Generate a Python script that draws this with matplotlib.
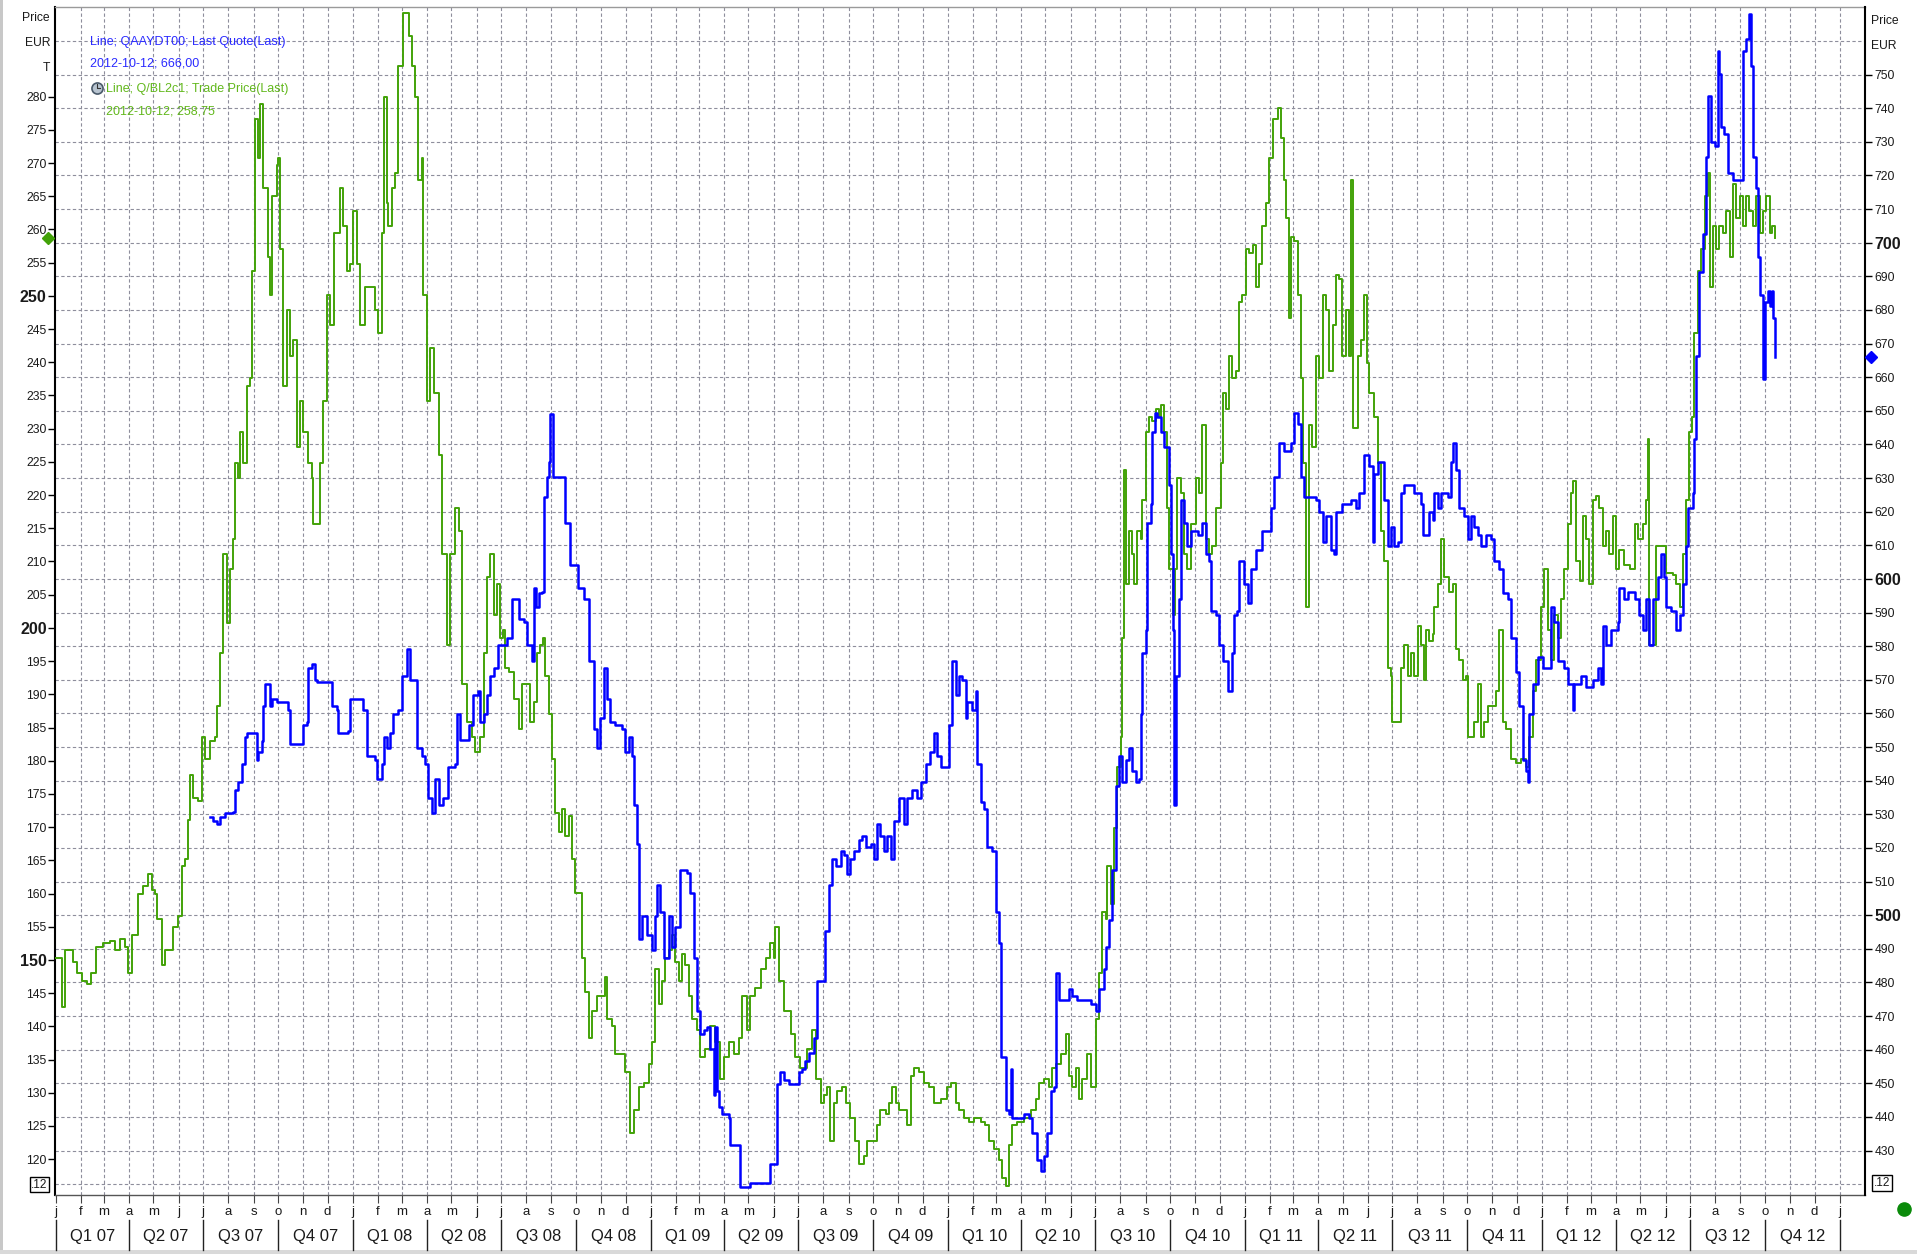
import numpy as np
import pandas as pd
import matplotlib
matplotlib.use("Agg")
import matplotlib.pyplot as plt
import matplotlib.dates as mdates
from matplotlib import transforms, font_manager
from matplotlib.lines import Line2D
from matplotlib.patches import Rectangle

# ---------------- data (months since 2007-01-01, price) ----------------
green_month = [
    0.00, 0.23, 0.36, 0.50, 0.70, 0.84, 1.04, 1.24, 1.44, 1.64,
    1.91, 2.18, 2.38, 2.59, 2.79, 2.92, 3.06, 3.33, 3.53, 3.73,
    3.87, 4.00, 4.07, 4.27, 4.40, 4.61, 4.74, 4.94, 5.08, 5.21,
    5.35, 5.41, 5.55, 5.75, 5.89, 6.02, 6.22, 6.42, 6.49, 6.63,
    6.76, 6.90, 7.03, 7.14, 7.23, 7.37, 7.43, 7.57, 7.70, 7.84,
    7.91, 8.04, 8.18, 8.24, 8.38, 8.58, 8.65, 8.71, 8.92, 8.98,
    9.05, 9.18, 9.32, 9.45, 9.59, 9.72, 9.86, 9.99, 10.20, 10.33,
    10.40, 10.53, 10.67, 10.80, 10.94, 11.07, 11.21, 11.47, 11.61, 11.74,
    11.88, 12.01, 12.15, 12.28, 12.48, 12.69, 12.89, 13.02, 13.16, 13.23,
    13.36, 13.43, 13.56, 13.70, 13.83, 14.03, 14.24, 14.37, 14.51, 14.64,
    14.77, 14.84, 14.98, 15.11, 15.25, 15.45, 15.58, 15.78, 15.92, 16.12,
    16.26, 16.39, 16.59, 16.79, 16.93, 17.13, 17.27, 17.40, 17.54, 17.67,
    17.80, 17.94,
    18.07, 18.14, 18.28, 18.48, 18.68, 18.82, 18.95, 19.15, 19.29, 19.42,
    19.56, 19.66, 19.76, 19.89, 20.03, 20.16, 20.30, 20.43, 20.57, 20.70,
    20.84, 20.97, 21.11, 21.24, 21.37, 21.51, 21.64, 21.85, 22.05, 22.18,
    22.25, 22.45, 22.59, 22.79, 22.99, 23.19, 23.33, 23.53, 23.73, 23.93,
    24.07, 24.20, 24.34, 24.47, 24.61, 24.74, 24.88, 25.01, 25.15, 25.28,
    25.41, 25.55, 25.68, 25.89, 26.02, 26.22, 26.42, 26.63, 26.83, 26.96,
    27.17, 27.37, 27.57, 27.70, 27.91, 28.04, 28.24, 28.45, 28.65, 28.85,
    28.98, 29.05, 29.19, 29.39, 29.66, 29.86, 30.06, 30.33, 30.53, 30.67,
    30.87, 31.00, 31.14, 31.27, 31.41, 31.54, 31.74, 31.88, 32.08, 32.28,
    32.42, 32.62, 32.76, 32.96, 33.16, 33.29, 33.50, 33.63, 33.77, 33.90,
    34.03, 34.24, 34.37, 34.51, 34.64, 34.84, 35.04, 35.25, 35.45, 35.72,
    35.99,
    36.12, 36.32, 36.46, 36.66, 36.86, 37.06, 37.33, 37.53, 37.67, 37.87,
    38.07, 38.21, 38.34, 38.48, 38.61, 38.81, 39.08, 39.35, 39.55, 39.69,
    39.89, 40.09, 40.23, 40.36, 40.56, 40.77, 40.90, 41.04, 41.17, 41.31,
    41.44, 41.64, 41.78, 41.91, 41.98, 42.11, 42.25, 42.38, 42.45, 42.58,
    42.72, 42.85, 42.99, 43.06, 43.12, 43.19, 43.33, 43.46, 43.53, 43.66,
    43.80, 43.86, 44.00, 44.13, 44.27, 44.40, 44.54, 44.60, 44.74, 44.87,
    44.94, 45.08, 45.17, 45.28, 45.41, 45.55, 45.68, 45.82, 46.02, 46.15,
    46.29, 46.42, 46.56, 46.69, 46.83, 47.03, 47.10, 47.23, 47.37, 47.50,
    47.64, 47.77, 47.90, 48.04, 48.17, 48.31, 48.44, 48.58, 48.71, 48.85,
    48.98, 49.12, 49.32, 49.45, 49.59, 49.66, 49.79, 49.86, 49.99, 50.13,
    50.26, 50.33, 50.46, 50.60, 50.73, 50.87, 51.00, 51.14, 51.27, 51.41,
    51.54, 51.68, 51.81, 51.94, 52.08, 52.21, 52.28, 52.35, 52.48, 52.55,
    52.69, 52.82, 52.93, 53.02, 53.22, 53.36, 53.49, 53.63, 53.76, 53.90,
    53.96,
    54.30, 54.43, 54.57, 54.70, 54.84, 54.97, 55.11, 55.24, 55.31, 55.45,
    55.58, 55.65, 55.78, 55.92, 56.05, 56.25, 56.39, 56.52, 56.66, 56.79,
    56.93, 56.99, 57.13, 57.26, 57.40, 57.53, 57.67, 57.80, 58.00, 58.14,
    58.27, 58.41, 58.54, 58.74, 58.95, 59.15, 59.35, 59.49, 59.62, 59.75,
    59.96, 60.09, 60.23, 60.36, 60.50, 60.63, 60.76, 60.90, 61.03, 61.17,
    61.26, 61.37, 61.51, 61.64, 61.77, 61.91, 62.04, 62.18, 62.31, 62.45,
    62.58, 62.72, 62.85, 62.99, 63.12, 63.32, 63.53, 63.73, 63.86, 64.06,
    64.20, 64.29, 64.33, 64.47, 64.60, 64.94, 65.01, 65.28, 65.41, 65.55,
    65.68, 65.82, 65.91, 66.04, 66.15, 66.29, 66.42, 66.56, 66.69, 66.76,
    66.89, 67.03, 67.16, 67.30, 67.43, 67.57, 67.70, 67.84, 67.97, 68.10,
    68.24, 68.37, 68.51, 68.64, 68.78, 68.91, 69.05, 69.18, 69.30, 69.40,
]
green_price = [
    150.3, 142.9, 151.5, 151.5, 149.7, 148.0, 146.9, 146.3, 148.0, 152.0,
    152.6, 152.8, 151.5, 153.2, 152.0, 148.0, 153.8, 160.0, 161.2, 162.9,
    160.6, 160.0, 156.1, 149.2, 151.5, 151.5, 154.9, 156.6, 164.1, 165.2,
    171.0, 177.9, 174.4, 173.9, 183.6, 180.2, 183.0, 183.6, 188.2, 196.2,
    211.2, 200.8, 208.9, 213.4, 224.9, 222.6, 229.5, 224.9, 236.4, 237.6,
    253.7, 276.6, 270.8, 278.9, 266.2, 255.9, 250.2, 265.1, 269.7, 270.8,
    257.1, 236.4, 247.9, 241.0, 243.3, 227.2, 234.1, 229.5, 224.9, 222.6,
    215.7, 215.7, 224.9, 234.1, 250.2, 245.6, 259.4, 266.2, 260.5, 253.7,
    254.8, 262.8, 254.8, 245.6, 251.3, 251.3, 247.9, 244.4, 259.4, 280.0,
    264.0, 260.5, 266.2, 268.5, 284.6, 292.6, 289.2, 284.6, 280.0, 267.4,
    270.8, 250.2, 234.1, 242.1, 235.3, 226.1, 211.2, 197.4, 211.2, 218.0,
    214.6, 191.6, 185.9, 183.6, 181.3, 183.6, 196.2, 207.7, 211.2, 202.0,
    206.6, 198.5,
    199.7, 193.9, 193.4, 189.3, 184.8, 191.6, 191.6, 185.9, 188.8, 196.2,
    197.4, 198.5, 192.8, 187.1, 180.2, 172.1, 169.3, 172.7, 168.7, 171.6,
    165.2, 160.1, 160.1, 150.3, 145.2, 138.3, 142.3, 144.6, 144.6, 147.5,
    141.1, 140.0, 135.9, 135.9, 133.1, 123.9, 127.4, 130.8, 131.4, 134.3,
    137.7, 148.6, 143.4, 146.9, 150.3, 151.5, 153.8, 149.7, 146.9, 150.9,
    149.2, 144.6, 141.1, 139.4, 135.4, 136.6, 140.0, 137.7, 132.0, 135.4,
    137.7, 135.9, 138.3, 144.6, 139.4, 144.6, 145.7, 148.6, 150.3, 152.6,
    150.3, 154.9, 146.9, 142.3, 138.8, 135.4, 133.7, 136.6, 139.4, 132.0,
    128.5, 129.7, 130.8, 122.8, 128.5, 130.3, 130.8, 128.5, 126.2, 122.8,
    119.3, 120.5, 122.8, 122.8, 125.1, 127.4, 126.8, 128.5, 130.8, 128.5,
    127.4, 127.4, 125.1, 132.5, 133.7, 133.1, 131.4, 130.8, 128.5, 129.1,
    130.8,
    131.4, 128.5, 127.4, 126.2, 125.6, 126.2, 125.6, 125.1, 122.8, 121.6,
    119.9, 117.1, 115.9, 122.2, 125.1, 125.6, 126.2, 127.4, 129.1, 131.4,
    132.0, 130.8, 133.7, 134.3, 135.9, 138.8, 132.5, 130.8, 133.7, 129.1,
    132.0, 135.9, 130.8, 130.8, 141.1, 148.0, 157.2, 156.1, 164.1, 158.4,
    169.8, 179.0, 183.6, 198.5, 223.8, 206.6, 214.6, 211.2, 206.6, 214.6,
    213.4, 219.2, 229.5, 231.8, 231.2, 232.9, 231.8, 233.5, 229.5, 218.0,
    208.9, 202.0, 208.9, 222.6, 220.3, 211.2, 208.9, 215.7, 222.6, 220.3,
    230.6, 213.4, 211.2, 212.3, 218.0, 224.9, 235.3, 233.0, 241.0, 237.6,
    238.7, 249.1, 250.2, 257.1, 256.5, 257.6, 251.3, 254.8, 260.5, 264.0,
    270.8, 276.6, 278.3, 273.7, 267.4, 261.7, 246.7, 258.8, 258.2, 250.2,
    237.6, 224.9, 203.1, 230.6, 227.2, 241.0, 237.6, 250.2, 247.9, 238.7,
    245.6, 253.1, 252.5, 241.0, 247.9, 241.0, 267.4, 230.1, 230.1, 241.0,
    243.3, 250.2, 239.9, 235.3, 231.8, 224.9, 214.6, 210.0, 193.9, 192.8,
    185.9,
    193.9, 197.4, 192.8, 196.2, 192.8, 200.3, 197.4, 192.2, 199.7, 198.0,
    199.1, 203.1, 206.6, 213.4, 207.7, 205.4, 206.6, 196.8, 195.1, 192.2,
    192.8, 183.6, 183.6, 185.9, 191.6, 183.6, 185.9, 188.2, 188.2, 190.5,
    199.7, 185.9, 184.7, 180.2, 179.6, 180.2, 179.0, 183.6, 190.5, 195.1,
    203.1, 208.9, 199.7, 195.1, 202.0, 198.5, 204.3, 208.9, 215.7, 220.3,
    222.1, 210.0, 207.1, 216.9, 213.4, 206.6, 219.2, 219.8, 218.0, 212.3,
    214.6, 211.2, 216.9, 208.9, 211.7, 209.4, 208.9, 215.7, 213.4, 215.7,
    219.2, 228.4, 197.4, 197.4, 212.3, 212.3, 208.3, 207.9, 206.6, 203.1,
    211.2, 219.2, 229.5, 231.8, 244.4, 253.7, 257.1, 265.1, 268.5, 251.3,
    260.5, 257.1, 260.5, 259.4, 262.8, 255.9, 266.8, 261.7, 265.1, 260.5,
    265.1, 262.8, 260.5, 265.1, 259.4, 262.8, 265.1, 259.4, 260.5, 258.75,
]

blue_month = [
    6.22, 6.36, 6.49, 6.63, 6.83, 7.17, 7.23, 7.37, 7.50, 7.64,
    7.70, 7.97, 8.11, 8.18, 8.31, 8.38, 8.44, 8.58, 8.65, 8.71,
    8.92, 9.18, 9.39, 9.45, 9.86, 9.99, 10.13, 10.20, 10.33, 10.46,
    10.53, 11.07, 11.14, 11.34, 11.41, 11.81, 11.88, 12.15, 12.42, 12.55,
    12.89, 12.96, 13.16, 13.23, 13.36, 13.49, 13.63, 13.83, 13.97, 14.17,
    14.30, 14.51, 14.57, 14.77, 14.91, 15.04, 15.18, 15.31, 15.45, 15.65,
    15.85, 16.12, 16.19, 16.32, 16.59, 16.66, 16.86, 17.06, 17.13, 17.27,
    17.40, 17.54, 17.67, 17.87,
    18.21, 18.41, 18.55, 18.68, 18.88, 19.02, 19.15, 19.22, 19.29, 19.39,
    19.49, 19.62, 19.69, 19.83, 19.89, 19.96, 20.07, 20.09, 20.50, 20.57,
    20.70, 20.77, 20.97, 21.06, 21.31, 21.44, 21.51, 21.64, 21.71, 21.85,
    21.91, 21.98, 22.12, 22.25, 22.38, 22.59, 22.86, 22.99, 23.13, 23.26,
    23.33, 23.46, 23.53, 23.66, 23.87, 24.07, 24.20, 24.27, 24.40, 24.54,
    24.74, 24.88, 25.01, 25.15, 25.21, 25.48, 25.62, 25.75, 25.89, 26.02,
    26.16, 26.29, 26.42, 26.56, 26.63, 26.69, 26.76, 26.90, 27.17, 27.23,
    27.43, 27.64, 27.84, 28.04, 28.65, 28.85, 29.05, 29.12, 29.25, 29.39,
    29.59, 29.79, 29.99, 30.13, 30.26, 30.40, 30.60, 30.73, 30.94, 31.07,
    31.21, 31.34, 31.48, 31.68, 31.81, 31.95, 32.08, 32.22, 32.42, 32.55,
    32.69, 32.89, 33.02, 33.16, 33.29, 33.43, 33.56, 33.70, 33.83, 34.03,
    34.24, 34.37, 34.57, 34.78, 34.91, 35.11, 35.31, 35.45, 35.58, 35.72,
    35.99, 36.05,
    36.19, 36.32, 36.46, 36.59, 36.73, 36.79, 36.99, 37.13, 37.20, 37.33,
    37.47, 37.60, 37.80, 37.94, 38.07, 38.14, 38.27, 38.34, 38.48, 38.54,
    38.61, 38.81, 39.08, 39.28, 39.42, 39.62, 39.76, 39.89, 40.03, 40.16,
    40.30, 40.36, 40.50, 40.70, 40.90, 41.04, 41.24, 41.51, 41.78, 41.98,
    42.11, 42.32, 42.38, 42.52, 42.65, 42.79, 42.92, 43.06, 43.19, 43.33,
    43.46, 43.59, 43.73, 43.80, 43.86, 44.00, 44.07, 44.20, 44.27, 44.36,
    44.47, 44.60, 44.74, 44.94, 45.01, 45.08, 45.14, 45.21, 45.35, 45.41,
    45.55, 45.68, 45.82, 46.09, 46.29, 46.42, 46.56, 46.63, 46.83, 46.96,
    47.10, 47.30, 47.50, 47.57, 47.70, 47.77, 47.97, 48.11, 48.24, 48.44,
    48.71, 48.91, 49.05, 49.18, 49.39, 49.59, 49.86, 49.99, 50.13, 50.26,
    50.40, 50.60, 50.87, 51.00, 51.14, 51.27, 51.47, 51.61, 51.68, 51.94,
    52.28, 52.48, 52.62, 52.82, 53.02, 53.16, 53.22, 53.36, 53.49, 53.63,
    53.76, 53.90, 54.03, 54.17,
    54.30, 54.43, 54.84, 55.11, 55.18, 55.38, 55.45, 55.58, 55.65, 55.78,
    55.92, 56.19, 56.32, 56.39, 56.52, 56.66, 56.86, 56.99, 57.13, 57.26,
    57.40, 57.53, 57.73, 57.94, 58.07, 58.27, 58.41, 58.61, 58.74, 58.95,
    59.08, 59.22, 59.35, 59.42, 59.49, 59.62, 59.82, 60.02, 60.23, 60.36,
    60.50, 60.63, 60.90, 61.03, 61.24, 61.30, 61.57, 61.77, 62.04, 62.25,
    62.38, 62.45, 62.58, 62.78, 63.05, 63.12, 63.32, 63.46, 63.73, 63.93,
    64.06, 64.20, 64.33, 64.47, 64.67, 64.81, 64.94, 65.01, 65.21, 65.41,
    65.55, 65.68, 65.82, 65.88, 66.08, 66.15, 66.22, 66.35, 66.49, 66.62,
    66.69, 66.83, 66.96, 67.09, 67.16, 67.23, 67.36, 67.50, 67.70, 67.97,
    68.10, 68.24, 68.37, 68.44, 68.51, 68.64, 68.71, 68.78, 68.91, 68.98,
    69.11, 69.22, 69.28, 69.33, 69.40,
]
blue_price = [
    529.3, 528.1, 527.0, 529.3, 530.4, 530.8, 537.2, 539.5, 545.1, 553.1,
    554.2, 554.2, 546.3, 548.5, 551.9, 562.1, 568.9, 568.9, 562.1, 564.4,
    563.3, 563.3, 561.0, 550.8, 550.8, 556.5, 557.6, 573.5, 574.6, 570.1,
    569.4, 569.4, 562.1, 561.0, 554.2, 554.9, 564.4, 564.4, 561.0, 547.4,
    546.3, 540.6, 545.1, 553.1, 549.7, 554.2, 559.9, 561.0, 571.2, 579.1,
    570.1, 570.1, 549.7, 547.4, 545.1, 535.0, 530.4, 540.6, 532.7, 535.0,
    544.0, 545.1, 559.9, 552.0, 552.0, 556.5, 565.5, 566.7, 557.6, 559.9,
    565.5, 571.2, 573.5, 580.3,
    582.5, 593.9, 593.9, 588.2, 587.1, 580.3, 580.3, 575.7, 597.3, 591.6,
    595.7, 596.1, 624.5, 630.2, 634.7, 649.0, 649.0, 630.2, 630.2, 616.5,
    616.5, 604.1, 604.1, 597.3, 593.9, 593.9, 575.7, 575.7, 555.3, 549.7,
    549.7, 558.7, 573.5, 564.4, 557.6, 556.5, 555.3, 548.5, 553.1, 547.4,
    532.7, 521.3, 493.0, 499.8, 494.1, 489.6, 499.8, 508.9, 500.9, 487.3,
    499.8, 490.7, 496.4, 496.4, 513.4, 512.7, 506.6, 487.3, 471.5, 464.7,
    465.8, 466.9, 460.1, 446.5, 466.9, 447.6, 443.1, 440.8, 439.7, 431.8,
    431.8, 419.3, 419.3, 420.5, 420.5, 426.1, 426.1, 449.9, 453.3, 451.0,
    449.9, 449.9, 453.3, 454.4, 456.7, 459.0, 463.5, 480.5, 480.5, 495.3,
    508.9, 516.8, 514.5, 519.1, 518.0, 512.3, 516.8, 519.1, 522.5, 523.6,
    520.2, 521.3, 516.8, 527.0, 523.6, 519.1, 523.6, 516.8, 528.1, 535.0,
    527.0, 535.0, 537.2, 535.0, 539.5, 545.1, 548.5, 554.2, 547.4, 544.0,
    544.0, 556.5,
    575.7, 565.5, 571.2, 570.1, 558.7, 563.3, 561.0, 566.7, 545.1, 533.8,
    531.5, 520.2, 519.1, 500.9, 491.8, 457.9, 457.9, 442.0, 440.8, 454.4,
    439.7, 439.7, 440.8, 439.7, 435.2, 427.2, 423.8, 428.4, 435.2, 447.6,
    448.8, 482.8, 474.8, 474.8, 478.2, 476.0, 474.8, 474.8, 473.7, 471.5,
    478.2, 483.9, 490.7, 498.7, 513.4, 538.3, 547.4, 539.5, 546.3, 549.7,
    542.9, 539.5, 540.6, 559.9, 578.0, 584.8, 616.5, 622.2, 643.7, 649.4,
    648.3, 643.7, 639.2, 627.9, 607.5, 584.8, 532.7, 571.2, 593.9, 623.4,
    616.5, 609.7, 614.2, 613.1, 616.5, 607.5, 605.3, 590.5, 589.4, 580.3,
    575.7, 566.7, 578.0, 589.4, 590.5, 605.3, 598.4, 592.8, 603.0, 608.6,
    614.2, 614.2, 621.0, 630.2, 640.4, 638.1, 640.4, 649.4, 646.0, 630.2,
    624.5, 624.5, 623.4, 620.0, 610.9, 618.8, 608.6, 607.5, 620.0, 622.2,
    623.4, 621.0, 625.6, 637.0, 633.6, 610.9, 631.3, 634.7, 634.7, 623.4,
    609.7, 615.4, 609.7, 610.9,
    625.6, 628.0, 625.6, 622.2, 613.1, 613.1, 620.0, 617.6, 625.6, 621.0,
    625.6, 624.5, 634.7, 640.4, 632.4, 621.0, 618.8, 612.0, 618.8, 615.4,
    613.1, 609.7, 613.1, 612.0, 605.3, 603.0, 595.9, 593.9, 582.5, 572.3,
    562.1, 546.3, 542.9, 539.5, 559.9, 568.9, 576.9, 573.5, 573.5, 591.6,
    587.1, 575.7, 573.5, 568.9, 561.0, 568.9, 571.2, 567.8, 570.1, 573.5,
    568.9, 585.9, 580.3, 584.8, 587.1, 597.3, 593.9, 596.1, 593.9, 589.4,
    584.8, 593.9, 580.3, 593.9, 600.7, 607.5, 600.7, 591.6, 590.5, 584.8,
    589.4, 598.4, 609.7, 621.0, 625.6, 641.5, 666.4, 691.4, 702.7, 725.4,
    743.5, 729.9, 728.8, 757.1, 750.3, 734.4, 732.2, 720.8, 718.6, 718.6,
    757.1, 760.5, 768.0, 752.6, 725.4, 716.3, 695.9, 684.6, 659.6, 682.3,
    685.7, 681.1, 685.7, 677.7, 666.0,
]

left_ticks = list(range(120, 281, 5))
right_ticks = list(range(430, 751, 10))
right_grid = list(range(420, 761, 10))
month_letters = ["j", "f", "m", "a", "m", "j", "j", "a", "s", "o", "n", "d"]
legend_lines = ["Line; QAAYDT00; Last Quote(Last)", "2012-10-12; 666,00",
                "Line; Q/BL2c1; Trade Price(Last)", "2012-10-12; 258,75"]
last_green = 258.75
last_blue = 666.00

# ---------------- style ----------------
names = {f.name for f in font_manager.fontManager.ttflist}
NARROW = "Liberation Sans Narrow" in names
plt.rcParams["font.family"] = ["Liberation Sans", "DejaVu Sans"]
q_family = ["Liberation Sans Narrow", "Liberation Sans"] if NARROW else ["Liberation Sans"]
q_size = 14 if NARROW else 12

GREEN = "#42a208"
BLUE = "#0000ff"
GRID = "#8e8e9c"
TXT = "#1a1a1a"
DASH = (0, (3, 2.2))

W, H = 1917, 1254
fig = plt.figure(figsize=(W / 100, H / 100), dpi=100)
fig.patch.set_facecolor("white")
AX_L, AX_R, AX_T, AX_B = 55, 1865, 7, 1195
ax1 = fig.add_axes([AX_L / W, 1 - AX_B / H, (AX_R - AX_L) / W, (AX_B - AX_T) / H])
ax2 = ax1.twinx()
ax2.patch.set_visible(False)


def fx(px):
    return px / W


def fy(py):
    return 1 - py / H


base = pd.Timestamp("2007-01-01")
DAYS_PER_MONTH = 365.25 / 12


def to_num(months):
    d = base + pd.to_timedelta(np.asarray(months) * DAYS_PER_MONTH, unit="D")
    return mdates.date2num(d.to_pydatetime())


gx = to_num(green_month)
bx = to_num(blue_month)

x0 = mdates.date2num(pd.Timestamp("2006-12-31").to_pydatetime())
x1 = mdates.date2num(pd.Timestamp("2013-02-01").to_pydatetime())
ax1.set_xlim(x0, x1)
ax1.set_ylim(114.6, 293.5)
ax2.set_ylim(416.8, 770.1)
ax1.autoscale(False)
ax2.autoscale(False)

# grid
month_starts = pd.date_range("2007-01-01", "2013-01-01", freq="MS")
ms_num = mdates.date2num(month_starts.to_pydatetime())
for m in ms_num[1:]:
    ax1.axvline(m, color=GRID, lw=0.8, ls=DASH, zorder=0.5)
htrans = transforms.blended_transform_factory(ax1.transAxes, ax2.transData)
for v in right_grid:
    ax1.add_line(Line2D([0, 1], [v, v], transform=htrans, color=GRID, lw=0.8,
                        ls=DASH, zorder=0.5))

# series (stepped, like the daily price trace)
ax1.plot(gx, green_price, color=GREEN, lw=1.4, zorder=3, drawstyle="steps-post")
ax2.plot(bx, blue_price, color=BLUE, lw=1.8, zorder=3, drawstyle="steps-post")

# spines
for s in ["top", "bottom", "left", "right"]:
    ax2.spines[s].set_visible(False)
ax1.spines["right"].set_visible(False)
ax1.spines["left"].set_color("black")
ax1.spines["left"].set_linewidth(1.5)
ax2.spines["right"].set_visible(True)
ax2.spines["right"].set_color("black")
ax2.spines["right"].set_linewidth(1.5)
ax1.spines["top"].set_color("#9a9a9a")
ax1.spines["top"].set_linewidth(1.0)
ax1.spines["bottom"].set_color("#555555")
ax1.spines["bottom"].set_linewidth(1.0)

# y ticks
ax1.set_yticks(left_ticks, labels=[str(v) for v in left_ticks])
ax1.tick_params(axis="y", direction="out", length=5, width=1.0, pad=1,
                labelsize=8.7, labelcolor=TXT, color="black")
for lbl, v in zip(ax1.get_yticklabels(), left_ticks):
    if v % 50 == 0:
        lbl.set_fontweight("bold")
        lbl.set_fontsize(11.5)

ax2.set_yticks(right_ticks, labels=[str(v) for v in right_ticks])
ax2.tick_params(axis="y", direction="out", length=5, width=1.0, pad=2,
                labelsize=8.7, labelcolor=TXT, color="black")
for lbl, v in zip(ax2.get_yticklabels(), right_ticks):
    if v % 100 == 0:
        lbl.set_fontweight("bold")
        lbl.set_fontsize(11.5)

# x ticks: month letters
ax1.set_xticks(ms_num, labels=[month_letters[d.month - 1] for d in month_starts])
ax1.tick_params(axis="x", direction="out", length=6, width=0.8, color="#444444",
                pad=2, labelsize=9.5, labelcolor=TXT)

# quarter labels and separators
qtrans = transforms.blended_transform_factory(ax1.transData, fig.transFigure)
q_starts = pd.date_range("2007-01-01", "2013-01-01", freq="QS")
qs_num = mdates.date2num(q_starts.to_pydatetime())
for i, qd in enumerate(q_starts):
    fig.add_artist(Line2D([qs_num[i], qs_num[i]], [fy(1220), fy(1250)],
                          transform=qtrans, color="#222222", lw=1.0))
    if i < len(q_starts) - 1:
        cx = (qs_num[i] + qs_num[i + 1]) / 2
        q = (qd.month - 1) // 3 + 1
        fig.text(cx, fy(1236), f"Q{q} {qd.year % 100:02d}", transform=qtrans,
                 ha="center", va="center", fontsize=q_size, family=q_family,
                 color=TXT)

# axis captions
for txt, py in [("Price", 18), ("EUR", 43), ("T", 68)]:
    fig.text(fx(50), fy(py), txt, ha="right", va="center", fontsize=8.7, color=TXT)
for txt, py in [("Price", 21), ("EUR", 46)]:
    fig.text(fx(1871), fy(py), txt, ha="left", va="center", fontsize=8.7, color=TXT)

# legend block
BLUE_TXT = "#2a2aff"
GREEN_TXT = "#62b81c"
fig.text(fx(90), fy(42), legend_lines[0], ha="left", va="center", fontsize=9, color=BLUE_TXT)
fig.text(fx(90), fy(64), legend_lines[1], ha="left", va="center", fontsize=9, color=BLUE_TXT)
fig.text(fx(106), fy(89), legend_lines[2], ha="left", va="center", fontsize=9, color=GREEN_TXT)
fig.text(fx(106), fy(112), legend_lines[3], ha="left", va="center", fontsize=9, color=GREEN_TXT)
fig.add_artist(Line2D([fx(97)], [fy(88)], transform=fig.transFigure, marker="o",
                      markersize=8, markerfacecolor="#b8c4d0", markeredgecolor="#4a5a6a",
                      markeredgewidth=1.2))
fig.add_artist(Line2D([fx(97), fx(97), fx(100)], [fy(84), fy(88), fy(88)],
                      transform=fig.transFigure, color="#333333", lw=0.8))

# last value markers
ltrans = transforms.blended_transform_factory(ax1.transAxes, ax1.transData)
ax1.plot([-0.0037], [last_green], transform=ltrans, marker="D", markersize=6,
         color=GREEN, clip_on=False, zorder=5)
rtrans = transforms.blended_transform_factory(ax2.transAxes, ax2.transData)
ax2.plot([1.0032], [last_blue], transform=rtrans, marker="D", markersize=6,
         color=BLUE, clip_on=False, zorder=5)

# ".12" boxes
for cx_, cy_ in [(39.5, 1184.5), (1882, 1183)]:
    fig.text(fx(cx_), fy(cy_), ".12", ha="center", va="center", fontsize=8.5, color=TXT,
             bbox=dict(boxstyle="square,pad=0.15", facecolor="white", edgecolor="black", lw=1))

# green status dot
fig.add_artist(Line2D([fx(1904)], [fy(1209)], transform=fig.transFigure, marker="o",
                      markersize=9.5, color="#0a8a0a"))

# window frame bits
fig.add_artist(Rectangle((0, 0), fx(3), 1, transform=fig.transFigure,
                         facecolor="#c8c8c8", edgecolor="none", zorder=0))
fig.add_artist(Rectangle((0, 0), 1, 4 / H, transform=fig.transFigure,
                         facecolor="#d9d9d9", edgecolor="none", zorder=0))

fig.savefig("out.png", dpi=100, facecolor="white")
